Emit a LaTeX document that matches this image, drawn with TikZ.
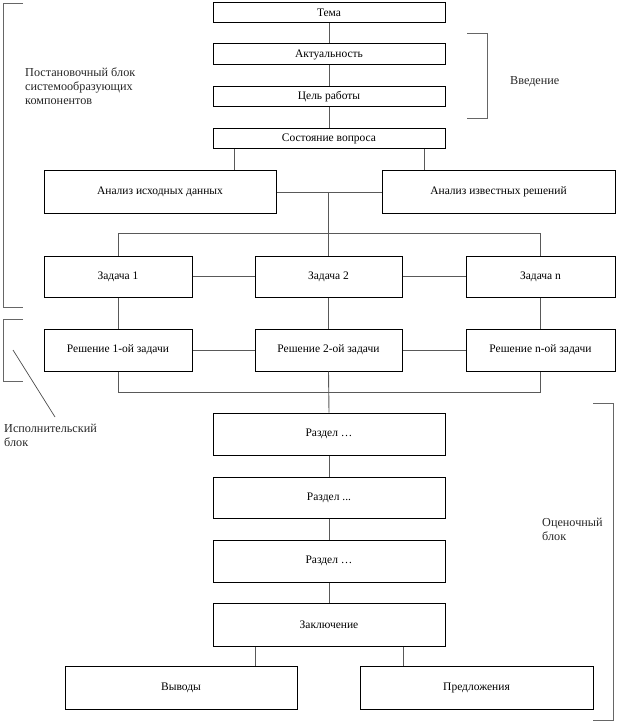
\documentclass[tikz,border=0pt]{standalone}
\usepackage{fontspec}
\setmainfont{Liberation Serif}
\begin{document}
\begin{tikzpicture}[x=1pt,y=-1pt,
  box/.style={draw=black,line width=1pt,rectangle,inner sep=0pt,font=\fontsize{11.5}{13}\selectfont},
  conn/.style={draw=black!65,line width=0.9pt},
  brk/.style={draw=black!60,line width=0.9pt},
  note/.style={anchor=west,align=left,inner sep=0pt,font=\fontsize{12.2}{14}\selectfont,text=black!85}]
\useasboundingbox (0,0) rectangle (617,722);
% boxes
\node[box,minimum width=232,minimum height=20] (tema) at (329,13) {Тема};
\node[box,minimum width=232,minimum height=21] (akt) at (329,54.5) {Актуальность};
\node[box,minimum width=232,minimum height=20] (cel) at (329,97) {Цель работы};
\node[box,minimum width=232,minimum height=20] (sost) at (329,139) {Состояние вопроса};
\node[box,minimum width=232,minimum height=42] (anis) at (160,192) {Анализ исходных данных};
\node[box,minimum width=233,minimum height=42] (aniz) at (498.5,192) {Анализ известных решений};
\node[box,minimum width=148,minimum height=41] (z1) at (118,276.5) {Задача 1};
\node[box,minimum width=147,minimum height=41] (z2) at (328.5,276.5) {Задача 2};
\node[box,minimum width=149,minimum height=41] (zn) at (540.5,276.5) {Задача n};
\node[box,minimum width=148,minimum height=42] (r1) at (118,350) {Решение 1-ой задачи};
\node[box,minimum width=147,minimum height=42] (r2) at (328.5,350) {Решение 2-ой задачи};
\node[box,minimum width=149,minimum height=42] (rn) at (540.5,350) {Решение n-ой задачи};
\node[box,minimum width=232,minimum height=42] (rz1) at (329,434) {Раздел \ldots};
\node[box,minimum width=232,minimum height=41] (rz2) at (329,497.5) {Раздел ...};
\node[box,minimum width=232,minimum height=42] (rz3) at (329,561) {Раздел \ldots};
\node[box,minimum width=232,minimum height=43] (zakl) at (329,624.5) {Заключение};
\node[box,minimum width=232,minimum height=43] (vyv) at (181,687.5) {Выводы};
\node[box,minimum width=233,minimum height=43] (pred) at (476.5,687.5) {Предложения};
% connectors
\draw[conn] (tema.south) -- (akt.north);
\draw[conn] (akt.south) -- (cel.north);
\draw[conn] (cel.south) -- (sost.north);
\draw[conn] ([xshift=-95]sost.south) -- ([xshift=-95]sost.south |- anis.north);
\draw[conn] ([xshift=95]sost.south) -- ([xshift=95]sost.south |- aniz.north);
\draw[conn] (anis.east) -- (aniz.west);
\draw[conn] (z1.north) -- ++(0,-22) -| (zn.north);
\draw[conn] (z2.north) -- (z2.north |- anis.east);
\draw[conn] (z1.east) -- (z2.west);
\draw[conn] (z2.east) -- (zn.west);
\draw[conn] (z1.south) -- (r1.north);
\draw[conn] (z2.south) -- (r2.north);
\draw[conn] (zn.south) -- (rn.north);
\draw[conn] (r1.east) -- (r2.west);
\draw[conn] (r2.east) -- (rn.west);
\draw[conn] (r1.south) -- ++(0,21) -| (rn.south);
\draw[conn] (r2.south) -- (rz1.north);
\draw[conn] (rz1.south) -- (rz2.north);
\draw[conn] (rz2.south) -- (rz3.north);
\draw[conn] (rz3.south) -- (zakl.north);
\draw[conn] ([xshift=-74]zakl.south) -- ([xshift=-74]zakl.south |- vyv.north);
\draw[conn] ([xshift=74]zakl.south) -- ([xshift=74]zakl.south |- pred.north);
% brackets
\draw[brk] (23,3) -- (3,3) -- (3,307) -- (23,307);
\draw[brk] (23,319) -- (3,319) -- (3,381) -- (23,381);
\coordinate (d1) at (13,350);
\coordinate (d2) at (55,417);
\draw[draw=black!70,line width=0.7pt] (d1) -- (d2);
\draw[brk] (467,33) -- (487,33) -- (487,118) -- (467,118);
\draw[brk] (593,403) -- (613,403) -- (613,720) -- (593,720);
% notes
\node[note] (n1) at (25,86) {Постановочный блок\\системообразующих\\компонентов};
\node[note] (n2) at (510,82) {Введение};
\node[note] (n3) at (4,435) {Исполнительский\\блок};
\node[note] (n4) at (542,529.5) {Оценочный\\блок};
\end{tikzpicture}
\end{document}
